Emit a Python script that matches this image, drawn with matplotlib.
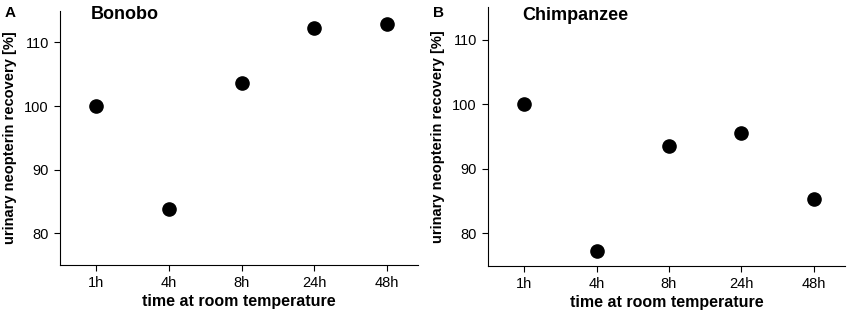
import numpy as np
import matplotlib
matplotlib.use('Agg')
import matplotlib.pyplot as plt

plt.rcParams['font.family'] = ['Liberation Sans', 'DejaVu Sans']

times = ['1h', '4h', '8h', '24h', '48h']
bonobo = [100.0, 83.8, 103.6, 112.3, 112.9]
chimpanzee = [100.0, 77.3, 93.5, 95.5, 85.4]
y_ticks = [80, 90, 100, 110]

fig = plt.figure(figsize=(8.51, 3.13), dpi=100)
ax1 = fig.add_axes([0.0705, 0.153, 0.421, 0.813])
ax2 = fig.add_axes([0.5735, 0.151, 0.419, 0.826])

panels = [(ax1, bonobo, 'Bonobo', 'A'), (ax2, chimpanzee, 'Chimpanzee', 'B')]

for ax, vals, name, letter in panels:
    x = np.arange(len(times))
    ax.plot(x, vals, 'o', color='black', markersize=9.5)
    ax.set_xlim(-0.5, 4.43)
    ax.set_ylim(75, 115)
    ax.set_xticks(x)
    ax.set_xticklabels(times)
    ax.set_yticks(y_ticks)
    ax.spines['top'].set_visible(False)
    ax.spines['right'].set_visible(False)
    ax.tick_params(direction='out', length=4, labelsize=10.5, pad=4)
    ax.set_xlabel('time at room temperature', fontsize=11.5, fontweight='bold', labelpad=3)
    ax.set_ylabel('urinary neopterin recovery [%]', fontsize=10.5, fontweight='bold', labelpad=5)

ax1.text(0.086, 1.02, 'Bonobo', transform=ax1.transAxes, fontsize=13, fontweight='bold',
         va='top', ha='left')
ax2.text(0.095, 1.0, 'Chimpanzee', transform=ax2.transAxes, fontsize=13, fontweight='bold',
         va='top', ha='left')

fig.text(0.005, 0.96, 'A', fontsize=11, fontweight='bold', va='center')
fig.text(0.509, 0.96, 'B', fontsize=11, fontweight='bold', va='center')

fig.savefig('out.png', dpi=100)
